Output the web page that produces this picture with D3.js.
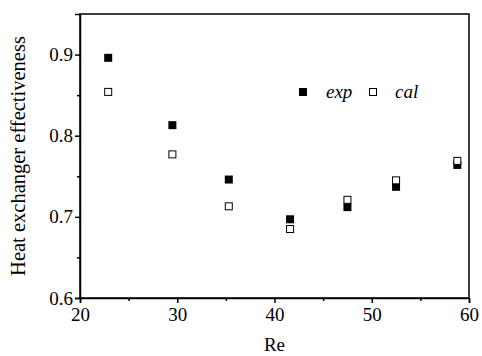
<!DOCTYPE html>
<html>
<head>
<meta charset="utf-8">
<script src="https://cdn.jsdelivr.net/npm/d3@7"></script>
<style>
  body { margin: 0; background: #fff; }
  text { font-family: "Liberation Serif", "Times New Roman", serif; fill: #000; }
</style>
</head>
<body>
<svg id="chart" width="482" height="356"></svg>
<script>
// Data
const reValues = [22.9, 29.5, 35.3, 41.6, 47.5, 52.5, 58.8];
const expValues = [0.896, 0.813, 0.746, 0.697, 0.712, 0.737, 0.764];
const calValues = [0.854, 0.777, 0.713, 0.685, 0.721, 0.745, 0.769];
const xTicks = [20, 30, 40, 50, 60];
const xMinor = [25, 35, 45, 55];
const yTicks = [0.6, 0.7, 0.8, 0.9];
const yMinor = [0.65, 0.75, 0.85];

const margin = { top: 14, right: 13, bottom: 58, left: 80 };
const width = 482, height = 356;

const svg = d3.select('#chart');

const x = d3.scaleLinear().domain([20, 60]).range([margin.left, width - margin.right]);
const y = d3.scaleLinear().domain([0.6, 0.95]).range([height - margin.bottom, margin.top]);

// Frame
svg.append('rect')
  .attr('x', margin.left)
  .attr('y', margin.top)
  .attr('width', width - margin.left - margin.right)
  .attr('height', height - margin.top - margin.bottom)
  .attr('fill', 'none')
  .attr('stroke', '#000')
  .attr('stroke-width', 1.5);

// Axes
svg.append('g')
  .attr('transform', `translate(0,${height - margin.bottom})`)
  .call(d3.axisBottom(x).tickValues(xTicks).tickSize(5).tickPadding(5).tickFormat(d3.format('d')));
svg.append('g')
  .attr('transform', `translate(0,${height - margin.bottom})`)
  .call(d3.axisBottom(x).tickValues(xMinor).tickSize(3).tickFormat(''))
  .call(g => g.select('.domain').remove());

svg.append('g')
  .attr('transform', `translate(${margin.left},0)`)
  .call(d3.axisLeft(y).tickValues(yTicks).tickSize(5).tickPadding(2).tickFormat(d3.format('.1f')));
svg.append('g')
  .attr('transform', `translate(${margin.left},0)`)
  .call(d3.axisLeft(y).tickValues(yMinor).tickSize(3).tickFormat(''))
  .call(g => g.select('.domain').remove());

svg.selectAll('g')
  .attr('font-family', '"Liberation Serif", serif')
  .attr('font-size', 19);
svg.selectAll('.domain').attr('stroke-width', 1.5);
svg.selectAll('.tick line').attr('stroke-width', 1.5);
svg.selectAll('.tick text')
  .style('font-size', '19px')
  .style('font-family', '"Liberation Serif", serif');

// Axis titles
svg.append('text')
  .attr('x', (margin.left + width - margin.right) / 2)
  .attr('y', 351)
  .attr('text-anchor', 'middle')
  .style('font-size', '19px')
  .text('Re');

svg.append('text')
  .attr('transform', `translate(25,${(margin.top + height - margin.bottom) / 2}) rotate(-90)`)
  .attr('text-anchor', 'middle')
  .style('font-size', '20.5px')
  .text('Heat exchanger effectiveness');

// Points
const sz = 8;
const expData = reValues.map((r, i) => ({ r, v: expValues[i] }));
const calData = reValues.map((r, i) => ({ r, v: calValues[i] }));

svg.append('g').selectAll('rect')
  .data(expData)
  .join('rect')
  .attr('x', d => x(d.r) - sz / 2)
  .attr('y', d => y(d.v) - sz / 2)
  .attr('width', sz)
  .attr('height', sz)
  .attr('fill', '#000');

svg.append('g').selectAll('rect')
  .data(calData)
  .join('rect')
  .attr('x', d => x(d.r) - sz / 2 + 0.5)
  .attr('y', d => y(d.v) - sz / 2 + 0.5)
  .attr('width', sz - 1)
  .attr('height', sz - 1)
  .attr('fill', '#fff')
  .attr('stroke', '#000')
  .attr('stroke-width', 1);

// Legend
const legend = svg.append('g');
legend.append('rect')
  .attr('x', 299).attr('y', 88).attr('width', sz).attr('height', sz).attr('fill', '#000');
legend.append('text')
  .attr('x', 326).attr('y', 98)
  .style('font-size', '19px').style('font-style', 'italic')
  .text('exp');
legend.append('rect')
  .attr('x', 369.5).attr('y', 88.5).attr('width', sz - 1).attr('height', sz - 1)
  .attr('fill', '#fff').attr('stroke', '#000');
legend.append('text')
  .attr('x', 395).attr('y', 98)
  .style('font-size', '19px').style('font-style', 'italic')
  .text('cal');
</script>
</body>
</html>
